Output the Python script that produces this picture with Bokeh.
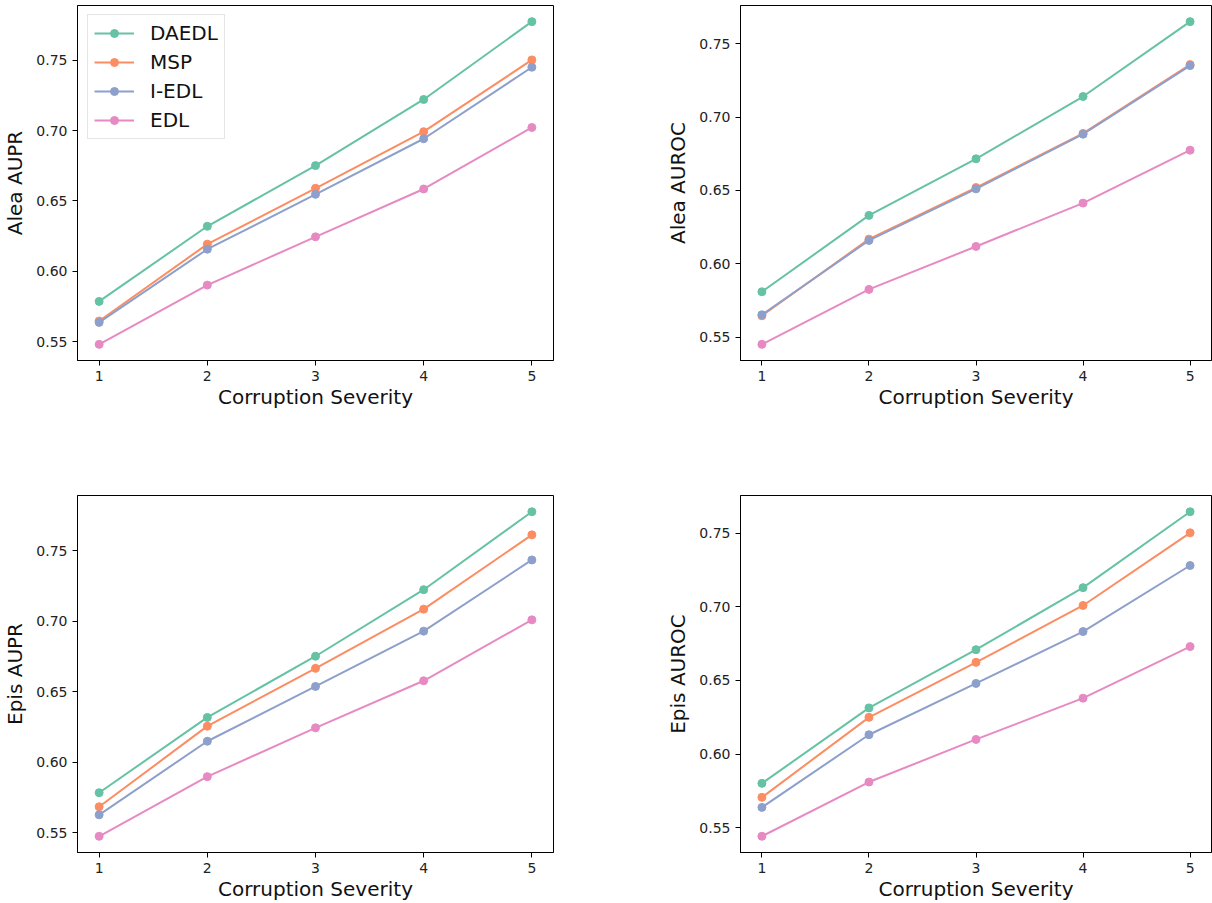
from bokeh.plotting import figure
from bokeh.layouts import column, row
from bokeh.models import FixedTicker, PrintfTickFormatter, Range1d, Legend
from bokeh.embed import file_html
from bokeh.resources import INLINE

severity = [1, 2, 3, 4, 5]
methods = ["DAEDL", "MSP", "I-EDL", "EDL"]
colors = ["#66c2a5", "#fc8d62", "#8da0cb", "#e78ac3"]
y_ticks = [0.55, 0.60, 0.65, 0.70, 0.75]

# Alea AUPR
alea_aupr = {
    "DAEDL": [0.5786, 0.6320, 0.6751, 0.7221, 0.7774],
    "MSP":   [0.5647, 0.6193, 0.6590, 0.6992, 0.7502],
    "I-EDL": [0.5637, 0.6157, 0.6547, 0.6942, 0.7450],
    "EDL":   [0.5481, 0.5902, 0.6245, 0.6585, 0.7022],
}
# Alea AUROC
alea_auroc = {
    "DAEDL": [0.5809, 0.6330, 0.6716, 0.7141, 0.7652],
    "MSP":   [0.5645, 0.6168, 0.6520, 0.6889, 0.7359],
    "I-EDL": [0.5652, 0.6159, 0.6511, 0.6884, 0.7352],
    "EDL":   [0.5450, 0.5825, 0.6118, 0.6414, 0.6775],
}
# Epis AUPR
epis_aupr = {
    "DAEDL": [0.5785, 0.6319, 0.6753, 0.7225, 0.7778],
    "MSP":   [0.5685, 0.6257, 0.6667, 0.7087, 0.7614],
    "I-EDL": [0.5628, 0.6150, 0.6539, 0.6931, 0.7436],
    "EDL":   [0.5476, 0.5899, 0.6245, 0.6579, 0.7011],
}
# Epis AUROC
epis_auroc = {
    "DAEDL": [0.5802, 0.6314, 0.6709, 0.7130, 0.7645],
    "MSP":   [0.5707, 0.6250, 0.6623, 0.7009, 0.7502],
    "I-EDL": [0.5639, 0.6132, 0.6480, 0.6832, 0.7280],
    "EDL":   [0.5443, 0.5811, 0.6100, 0.6380, 0.6730],
}

FONT = "DejaVu Sans"


def make_panel(data, ylabel, width, height, bl, br, bt, bb, legend=False):
    allv = [v for m in methods for v in data[m]]
    lo, hi = min(allv), max(allv)
    pad = 0.05 * (hi - lo)
    p = figure(width=width, height=height, output_backend="svg",
               toolbar_location=None,
               x_range=Range1d(0.8, 5.2),
               y_range=Range1d(lo - pad, hi + pad),
               min_border_left=bl, min_border_right=br,
               min_border_top=bt, min_border_bottom=bb)
    p.grid.visible = False
    p.outline_line_color = "black"
    p.outline_line_width = 1
    p.background_fill_color = "white"
    p.border_fill_color = "white"
    items = []
    for m, c in zip(methods, colors):
        r1 = p.line(severity, data[m], line_color=c, line_width=2)
        r2 = p.scatter(severity, data[m], size=8, fill_color=c, line_color=c)
        items.append((m, [r1, r2]))
    for ax in (p.xaxis[0], p.yaxis[0]):
        ax.axis_line_color = "black"
        ax.major_tick_line_color = "black"
        ax.minor_tick_line_color = None
        ax.major_tick_out = 5
        ax.major_tick_in = 0
        ax.major_label_text_font = FONT
        ax.major_label_text_font_size = "14px"
        ax.major_label_text_color = "#222222"
        ax.axis_label_text_font = FONT
        ax.axis_label_text_font_size = "20px"
        ax.axis_label_text_font_style = "normal"
        ax.axis_label_text_color = "#111111"
        ax.major_label_standoff = 5
    p.xaxis.ticker = FixedTicker(ticks=severity)
    p.yaxis.ticker = FixedTicker(ticks=y_ticks)
    p.yaxis.formatter = PrintfTickFormatter(format="%.2f")
    p.xaxis.axis_label = "Corruption Severity"
    p.yaxis.axis_label = ylabel
    p.yaxis.axis_label_standoff = 6
    p.xaxis.axis_label_standoff = 1
    if legend:
        lg = Legend(items=items, location=(10, 221))
        lg.label_text_font = FONT
        lg.label_text_font_size = "20px"
        lg.label_text_color = "#111111"
        lg.glyph_width = 40
        lg.glyph_height = 20
        lg.label_standoff = 16
        lg.spacing = 5
        lg.padding = 6
        lg.border_line_color = "#cccccc"
        lg.border_line_width = 1
        lg.background_fill_alpha = 0.8
        p.add_layout(lg, "center")
    return p


p1 = make_panel(alea_aupr, "Alea AUPR", 663, 420, 75, 110, 5, 60, legend=True)
p2 = make_panel(alea_auroc, "Alea AUROC", 549, 420, 75, 1, 5, 60)
p3 = make_panel(epis_aupr, "Epis AUPR", 663, 483, 75, 110, 75, 51)
p4 = make_panel(epis_auroc, "Epis AUROC", 549, 483, 75, 1, 75, 51)

layout = column(row(p1, p2), row(p3, p4))
open("out.html", "w").write(file_html(layout, INLINE))
